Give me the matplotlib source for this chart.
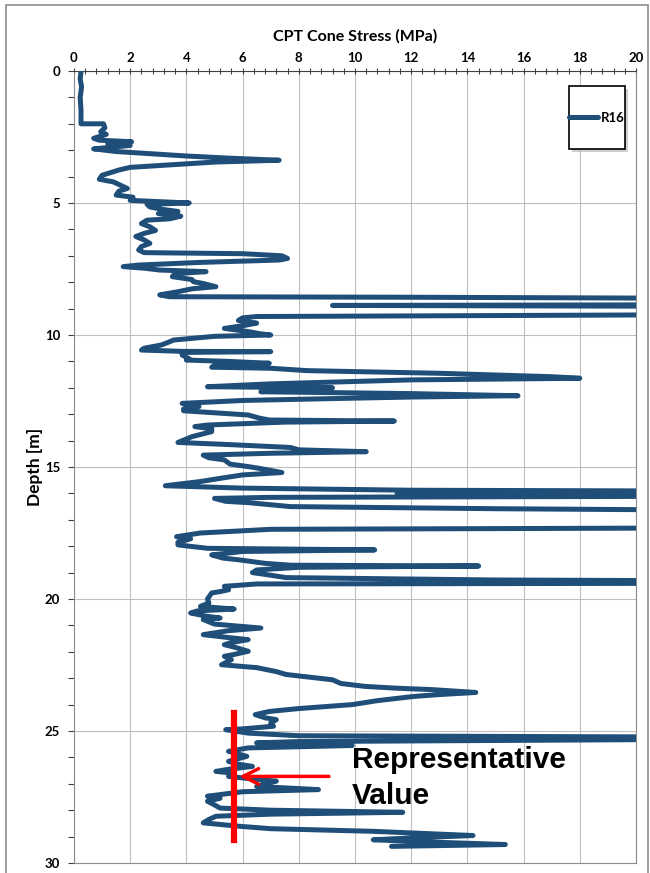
import matplotlib
matplotlib.use("Agg")
import matplotlib.pyplot as plt
from matplotlib.patches import Rectangle
from matplotlib.ticker import MultipleLocator

# CPT profile R16: depth (m) and cone stress (MPa)
# values past 20 MPa run off the right edge of the chart
depth = [
    0.0, 0.3, 0.6, 1.0, 1.5, 2.0, 2.0, 2.15, 2.3, 2.4, 2.55, 2.62, 2.68, 2.75,
    2.82, 2.95, 3.05, 3.15, 3.22, 3.3, 3.38, 3.45, 3.55, 3.65, 3.75, 3.95, 4.1,
    4.2, 4.3, 4.45, 4.55, 4.7, 4.78, 4.9, 5.0, 5.05, 5.15, 5.25, 5.32, 5.4, 5.5,
    5.6, 5.65, 5.78, 5.9, 6.04, 6.15, 6.27, 6.4, 6.53, 6.65, 6.78, 6.88, 6.92,
    7.0, 7.1, 7.16, 7.25, 7.35, 7.41, 7.47, 7.54, 7.6, 7.68, 7.79, 7.9, 7.98,
    8.05, 8.17, 8.25, 8.36, 8.48, 8.55, 8.57, 8.62, 8.85, 8.88, 8.92, 9.0, 9.22,
    9.3, 9.35, 9.45, 9.55, 9.65, 9.75, 9.87, 9.95, 10.0, 10.05, 10.19, 10.3,
    10.38, 10.5, 10.57, 10.62, 10.63, 10.66, 10.76, 10.9, 10.95, 11.0, 11.07,
    11.15, 11.22, 11.26, 11.35, 11.45, 11.58, 11.64, 11.7, 11.77, 11.85, 11.96,
    12.0, 12.05, 12.15, 12.22, 12.3, 12.35, 12.4, 12.48, 12.59, 12.71, 12.8,
    12.87, 13.03, 13.15, 13.22, 13.26, 13.3, 13.41, 13.47, 13.55, 13.66, 13.85,
    14.07, 14.15, 14.26, 14.35, 14.42, 14.48, 14.55, 14.65, 14.73, 14.89, 15.0,
    15.09, 15.21, 15.3, 15.43, 15.55, 15.71, 15.8, 15.88, 15.92, 15.98, 16.0,
    16.04, 16.1, 16.15, 16.19, 16.3, 16.35, 16.5, 16.58, 16.65, 17.3, 17.36,
    17.5, 17.64, 17.72, 17.85, 17.95, 18.08, 18.14, 18.2, 18.33, 18.45, 18.52,
    18.65, 18.72, 18.75, 18.8, 18.9, 19.0, 19.1, 19.19, 19.28, 19.32, 19.4,
    19.43, 19.52, 19.65, 19.72, 19.77, 20.0, 20.15, 20.28, 20.38, 20.45, 20.53,
    20.65, 20.72, 20.78, 20.95, 21.1, 21.2, 21.35, 21.45, 21.54, 21.65, 21.73,
    21.85, 21.98, 22.1, 22.17, 22.3, 22.49, 22.6, 22.75, 22.86, 22.95, 23.06,
    23.2, 23.31, 23.38, 23.43, 23.54, 23.62, 23.69, 23.85, 24.0, 24.15, 24.26,
    24.38, 24.5, 24.57, 24.7, 24.82, 24.92, 24.95, 25.08, 25.18, 25.24, 25.3,
    25.4, 25.45, 25.55, 25.64, 25.77, 25.96, 26.15, 26.25, 26.34, 26.45, 26.53,
    26.6, 26.72, 26.8, 26.9, 27.0, 27.1, 27.22, 27.3, 27.47, 27.55, 27.66, 27.8,
    27.92, 28.0, 28.08, 28.15, 28.23, 28.35, 28.48, 28.61, 28.7, 28.8, 28.96,
    29.05, 29.12, 29.2, 29.3, 29.37,
]
cone_stress = [
    0.25, 0.22, 0.27, 0.22, 0.25, 0.25, 1.05, 1.1, 0.95, 1.15, 0.7, 0.9, 2.05, 1.2,
    2.0, 0.7, 1.5, 3.0, 4.0, 5.5, 7.3, 5.0, 3.5, 2.0, 1.6, 1.0, 0.9,
    1.4, 1.6, 1.9, 1.6, 1.5, 2.1, 2.0, 4.1, 2.6, 2.7, 3.2, 3.7, 3.0, 3.8,
    3.4, 2.6, 2.4, 2.7, 2.9, 2.5, 2.2, 2.5, 2.7, 2.4, 2.3, 2.5, 6.0,
    7.4, 7.6, 7.3, 4.5, 2.3, 1.75, 2.5, 3.05, 4.7, 3.6, 3.5, 4.2, 4.25,
    4.6, 5.05, 4.2, 3.7, 3.05, 3.4, 12.0, 25.0, 25.0, 9.2, 25.0, 25.0, 25.0,
    6.5, 6.0, 5.85, 6.5, 6.0, 5.35, 6.2, 6.6, 7.0, 5.0, 3.55, 3.3,
    3.1, 2.5, 2.4, 3.85, 7.0, 3.85, 3.85, 4.1, 4.0, 5.5, 6.95,
    5.0, 4.9, 7.0, 8.3, 13.0, 17.0, 18.0, 12.0, 9.6, 7.0, 4.75,
    9.2, 8.0, 6.65, 12.0, 15.8, 12.0, 9.6, 6.0, 3.85, 4.45, 3.9,
    3.9, 6.2, 6.6, 6.95, 11.4, 7.5, 4.75, 4.3, 4.9, 4.9, 4.2,
    3.7, 5.5, 7.7, 8.0, 10.4, 7.0, 4.6, 4.8, 5.35, 5.55, 6.3,
    6.8, 7.4, 6.0, 5.2, 4.5, 3.25, 6.0, 12.0, 25.0, 25.0, 11.5,
    25.0, 25.0, 7.0, 5.0, 5.4, 6.2, 7.7, 15.0, 25.0, 25.0, 7.0,
    4.5, 3.65, 4.15, 3.7, 3.7, 4.75, 10.7, 6.0, 4.9, 5.3, 5.9,
    6.8, 7.7, 14.4, 8.0, 6.5, 6.35, 7.0, 7.55, 15.0, 25.0, 25.0,
    6.5, 5.35, 5.5, 5.2, 4.9, 4.75, 4.8, 4.5, 5.7, 4.4, 4.15,
    4.7, 5.2, 4.6, 5.0, 6.65, 5.5, 4.6, 5.4, 6.2, 5.6, 5.35,
    5.8, 6.2, 5.7, 5.35, 5.6, 5.25, 6.5, 7.2, 7.55, 8.3, 9.2,
    9.5, 10.35, 11.5, 12.7, 14.3, 13.0, 12.1, 10.8, 9.9, 8.0, 6.95,
    6.45, 6.8, 7.2, 7.0, 7.1, 6.0, 5.4, 6.2, 8.0, 25.0, 25.0,
    8.0, 6.5, 9.9, 6.2, 5.5, 6.15, 5.5, 5.8, 6.35, 5.5, 5.05,
    5.7, 5.5, 6.2, 7.2, 6.8, 6.5, 8.7, 6.0, 4.75, 5.2, 4.75, 5.0,
    5.2, 7.0, 11.7, 7.0, 5.05, 4.8, 4.6, 5.9, 7.0, 10.65, 14.2,
    12.0, 10.65, 12.5, 15.35, 11.3,
]

# representative value marker
rep_value = 5.7
rep_depth_range = [24.32, 29.12]
arrow_depth = 26.72
arrow_start = 9.17
label_text = "Representative\nValue"

x_ticks = [0, 2, 4, 6, 8, 10, 12, 14, 16, 18, 20]
y_ticks = [0, 5, 10, 15, 20, 25, 30]

line_color = "#1F4E79"
calibri_like = ["Lato", "DejaVu Sans"]

fig = plt.figure(figsize=(6.5, 8.73), dpi=100)
W, H = 650, 873

# outer chart border
fig.patches.append(Rectangle((6 / W, -0.01), (W - 8) / W, 1 - 5 / H + 0.01,
                             transform=fig.transFigure, fill=False,
                             edgecolor="#8C8C8C", lw=1.2))

ax = fig.add_axes([74 / W, 10 / H, 562 / W, 792 / H])
ax.plot(cone_stress, depth, color=line_color, lw=3.6, solid_joinstyle="round",
        solid_capstyle="round", label="R16", zorder=3)

ax.set_xlim(0, 20)
ax.set_ylim(30, 0)
ax.set_xticks(x_ticks)
ax.set_yticks(y_ticks)
ax.xaxis.set_minor_locator(MultipleLocator(0.4))
ax.yaxis.set_minor_locator(MultipleLocator(1))
ax.xaxis.tick_top()
ax.xaxis.set_label_position("top")
ax.tick_params(axis="x", which="both", direction="inout", top=True, bottom=False,
               length=4, width=0.8, color="#404040", pad=3)
ax.tick_params(axis="y", which="both", direction="out", length=4, width=0.8,
               color="#404040", pad=6)
for lab in ax.get_xticklabels() + ax.get_yticklabels():
    lab.set_family(calibri_like)
    lab.set_fontweight("bold")
    lab.set_fontsize(9.5)

ax.grid(True, which="major", color="#BFBFBF", lw=0.8)
ax.set_axisbelow(True)
for side in ["left", "bottom", "right"]:
    ax.spines[side].set_color("#8C8C8C")
ax.spines["top"].set_color("#404040")

ax.set_xlabel("CPT Cone Stress (MPa)", family=calibri_like, fontweight="bold",
              fontsize=11.5, labelpad=8)
ax.set_ylabel("Depth [m]", family=calibri_like, fontweight="bold",
              fontsize=12.5, labelpad=5)
ax.yaxis.set_label_coords(-0.056, 0.5)

# representative value annotation
ax.plot([rep_value, rep_value], rep_depth_range, color="red", lw=4.5, zorder=4)
ax.annotate("", xy=(rep_value + 0.08, arrow_depth),
            xytext=(arrow_start, arrow_depth),
            arrowprops=dict(arrowstyle="->", color="red", lw=2.5,
                            mutation_scale=28), zorder=5)
ax.text(9.9, 25.55, label_text, va="top", ha="left", fontsize=21.5,
        fontweight="bold", family=["Liberation Sans", "DejaVu Sans"],
        linespacing=1.4, zorder=5)

# legend box with shadow
bx0, by0, bw, bh = 569 / W, 1 - 149 / H, 56 / W, 63 / H
fig.patches.append(Rectangle((bx0 + 3 / W, by0 - 3 / H), bw, bh,
                             transform=fig.transFigure, facecolor="#A0A0A0",
                             edgecolor="none", alpha=0.5, zorder=5))
fig.patches.append(Rectangle((bx0, by0), bw, bh, transform=fig.transFigure,
                             facecolor="white", edgecolor="black", lw=1.2,
                             zorder=6))
leg = ax.legend(loc="center", bbox_to_anchor=(bx0 + bw / 2, by0 + bh / 2),
                bbox_transform=fig.transFigure, frameon=False, handlelength=2.2,
                handletextpad=0.25, borderpad=0, prop={"family": calibri_like,
                                                       "weight": "bold",
                                                       "size": 9.5})
leg.set_zorder(7)
fig.legends.append(leg)
ax.get_legend().remove()

fig.savefig("out.png", dpi=100)
